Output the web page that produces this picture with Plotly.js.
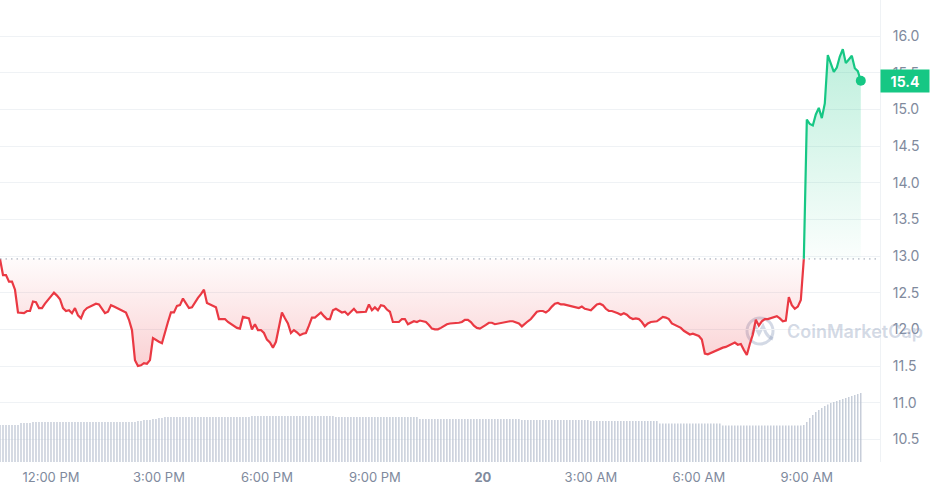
<!DOCTYPE html>
<html>
<head>
<meta charset="utf-8">
<script src="https://cdn.plot.ly/plotly-3.0.1.min.js"></script>
<style>
  html, body { margin: 0; padding: 0; background: #ffffff; }
  #chart { width: 930px; height: 495px; }
</style>
</head>
<body>
<div id="chart"></div>
<script>
// ---------------- DATA ----------------
// 5-minute samples starting 19th 10:35 and ending 20th 10:30
const startTime = [2024, 2, 19, 10, 35]; // year, monthIndex, day, hour, minute
const stepMinutes = 5;
const openPrice = 12.96;

const prices = [
  12.96,12.74,12.74,12.65,12.65,12.54,12.23,12.22,12.22,12.25,
  12.25,12.38,12.37,12.29,12.29,12.35,12.40,12.44,12.50,12.46,
  12.41,12.29,12.25,12.26,12.22,12.29,12.19,12.15,12.25,12.29,
  12.31,12.33,12.35,12.34,12.27,12.22,12.24,12.33,12.31,12.29,
  12.28,12.25,12.23,12.13,11.99,11.58,11.50,11.51,11.54,11.53,
  11.58,11.88,11.85,11.83,11.81,11.97,12.10,12.23,12.23,12.32,
  12.33,12.42,12.36,12.29,12.30,12.37,12.43,12.48,12.54,12.36,
  12.34,12.32,12.30,12.14,12.14,12.14,12.10,12.07,12.04,12.02,
  12.01,12.17,12.16,12.15,12.00,12.07,11.99,11.99,11.95,11.86,
  11.82,11.75,11.83,12.03,12.23,12.15,12.08,11.95,11.99,11.96,
  11.92,11.94,11.95,12.05,12.16,12.16,12.19,12.23,12.18,12.14,
  12.14,12.26,12.28,12.25,12.23,12.24,12.20,12.24,12.28,12.23,
  12.23,12.24,12.24,12.34,12.26,12.30,12.26,12.33,12.32,12.27,
  12.24,12.10,12.10,12.10,12.14,12.14,12.07,12.09,12.11,12.10,
  12.12,12.11,12.10,12.06,12.01,12.00,12.00,12.02,12.05,12.07,
  12.08,12.08,12.08,12.09,12.10,12.13,12.13,12.10,12.05,12.02,
  12.01,12.03,12.06,12.09,12.09,12.07,12.08,12.08,12.09,12.10,
  12.11,12.11,12.10,12.08,12.04,12.08,12.11,12.14,12.19,12.24,
  12.25,12.25,12.23,12.26,12.31,12.35,12.36,12.34,12.34,12.33,
  12.32,12.31,12.29,12.29,12.31,12.28,12.27,12.26,12.30,12.34,
  12.35,12.33,12.28,12.25,12.25,12.24,12.22,12.20,12.22,12.20,
  12.16,12.14,12.15,12.14,12.10,12.04,12.08,12.10,12.10,12.11,
  12.14,12.17,12.16,12.14,12.08,12.06,12.05,12.02,11.98,11.95,
  11.93,11.94,11.93,11.91,11.86,11.67,11.66,11.68,11.70,11.71,
  11.73,11.75,11.76,11.78,11.81,11.82,11.79,11.80,11.72,11.65,
  11.80,11.93,12.13,12.05,12.11,12.14,12.14,12.15,12.17,12.18,
  12.15,12.11,12.12,12.44,12.33,12.28,12.31,12.40,12.96,14.86,
  14.80,14.78,14.93,15.02,14.88,15.08,15.74,15.63,15.51,15.57,
  15.72,15.82,15.63,15.68,15.73,15.56,15.52,15.39
];

// volume (millions), one bar per sample
const volumes = [
  3.7,3.7,3.7,3.7,3.7,3.7,3.7,
  3.9,3.9,3.9,3.9,4.0,4.0,4.0,4.0,4.0,4.0,4.0,4.0,4.0,4.0,4.0,4.0,4.0,4.0,4.0,4.0,4.0,4.0,4.0,4.0,4.0,4.0,4.0,4.0,4.0,4.0,4.0,4.0,4.0,4.0,4.0,4.0,4.0,4.0,4.0,
  4.1,4.1,4.2,4.2,4.2,4.3,4.3,4.4,4.4,4.5,
  4.5,4.5,4.5,4.5,4.5,4.5,4.5,4.5,4.5,4.5,4.5,4.5,4.5,4.5,4.5,4.5,4.5,4.5,4.5,4.5,4.5,4.5,4.5,4.5,4.5,4.5,4.5,4.5,
  4.6,4.6,4.6,4.6,4.6,4.6,4.6,4.6,4.6,4.6,4.6,4.6,4.6,4.6,4.6,4.6,4.6,4.6,4.6,4.6,4.6,4.6,4.6,4.6,4.6,4.6,4.6,4.6,
  4.5,4.5,4.5,4.5,4.5,4.5,4.5,4.5,4.5,4.5,4.5,4.5,4.5,4.5,4.5,4.5,4.5,4.5,4.5,4.5,4.5,4.5,4.5,4.5,4.5,4.5,4.5,4.5,
  4.3,4.3,4.3,4.3,4.3,4.3,4.3,4.3,4.3,4.3,4.3,4.3,4.3,4.3,4.3,4.3,4.3,4.3,4.3,4.3,4.3,4.3,4.3,4.3,4.3,4.3,4.3,4.3,4.3,4.3,4.3,4.3,4.3,4.3,
  4.2,4.2,4.2,4.2,4.2,4.2,4.2,4.2,4.2,4.2,4.2,4.2,4.2,4.2,4.2,4.2,4.2,4.2,4.2,4.2,4.2,4.2,4.2,
  4.1,4.1,4.1,4.1,4.1,4.1,4.1,4.1,4.1,4.1,4.1,4.1,4.1,4.1,4.1,4.1,4.1,4.1,4.1,4.1,4.1,4.1,4.1,
  3.85,3.85,3.85,3.85,3.85,3.85,3.85,3.85,3.85,3.85,3.85,3.85,3.85,3.85,3.85,3.85,3.85,3.85,3.85,3.85,3.85,
  3.65,3.65,3.65,3.65,3.65,3.65,3.65,3.65,3.65,3.65,3.65,3.65,3.65,3.65,3.65,3.65,3.65,3.65,3.65,3.65,3.65,3.65,3.65,3.65,3.65,3.65,3.65,
  3.7,4.0,4.4,4.7,5.0,5.2,5.4,5.6,5.75,5.9,6.0,6.1,6.2,6.3,6.4,6.5,6.6,6.7,6.8,6.9
];

const tickTimes = ['2024-03-19 12:00','2024-03-19 15:00','2024-03-19 18:00','2024-03-19 21:00',
                   '2024-03-20 00:00','2024-03-20 03:00','2024-03-20 06:00','2024-03-20 09:00'];
const tickLabels = ['12:00 PM','3:00 PM','6:00 PM','9:00 PM','<b>20</b>','3:00 AM','6:00 AM','9:00 AM'];
const priceTicks = [10.5,11.0,11.5,12.0,12.5,13.0,13.5,14.0,14.5,15.0,15.5,16.0];

// ---------------- BUILD ----------------
const pad = n => String(n).padStart(2, '0');
const t0 = Date.UTC(startTime[0], startTime[1], startTime[2], startTime[3], startTime[4]);
const fmt = ms => { const d = new Date(ms);
  return d.getUTCFullYear() + '-' + pad(d.getUTCMonth() + 1) + '-' + pad(d.getUTCDate()) + ' ' +
         pad(d.getUTCHours()) + ':' + pad(d.getUTCMinutes()) + ':' + pad(d.getUTCSeconds()); };
const times = prices.map((_, i) => fmt(t0 + i * stepMinutes * 60000));

let lastBelow = 0;
prices.forEach((v, i) => { if (v < openPrice) lastBelow = i; });
const split = lastBelow + 1;

const redX = times.slice(0, split + 1), redY = prices.slice(0, split + 1);
const grnX = times.slice(split), grnY = prices.slice(split);
const lastPrice = prices[prices.length - 1];

const RED = '#ea3943', GREEN = '#16c784';

const traces = [
  { x: redX, y: redX.map(() => openPrice), mode: 'lines', line: { width: 0 }, hoverinfo: 'skip', showlegend: false },
  { x: redX, y: redY, mode: 'lines', line: { color: RED, width: 2.2 }, fill: 'tonexty',
    fillgradient: { type: 'vertical', start: 11.45, stop: openPrice,
      colorscale: [[0, 'rgba(234,57,67,0.24)'], [1, 'rgba(234,57,67,0.02)']] },
    hoverinfo: 'skip', showlegend: false },
  { x: grnX, y: grnX.map(() => openPrice), mode: 'lines', line: { width: 0 }, hoverinfo: 'skip', showlegend: false },
  { x: grnX, y: grnY, mode: 'lines', line: { color: GREEN, width: 2.2 }, fill: 'tonexty',
    fillgradient: { type: 'vertical', start: openPrice, stop: 15.8,
      colorscale: [[0, 'rgba(22,199,132,0.02)'], [1, 'rgba(22,199,132,0.28)']] },
    hoverinfo: 'skip', showlegend: false },
  { x: times, y: volumes, type: 'bar', yaxis: 'y2', width: stepMinutes * 60000 * 0.4,
    marker: { color: '#b9c1d0', line: { width: 0 } }, hoverinfo: 'skip', showlegend: false },
  { x: [times[times.length - 1]], y: [lastPrice], mode: 'markers',
    marker: { color: GREEN, size: 10 }, cliponaxis: false, hoverinfo: 'skip', showlegend: false }
];

const plotW = 880, plotH = 462;
const logoX = 760 / plotW, logoY = 1 - 331 / plotH;

const layout = {
  width: 930, height: 495,
  margin: { l: 0, r: 50, t: 0, b: 33, pad: 0 },
  paper_bgcolor: '#ffffff', plot_bgcolor: '#ffffff',
  showlegend: false,
  font: { family: 'Inter, sans-serif', color: '#808a9d' },
  xaxis: {
    type: 'date',
    range: [fmt(t0), fmt(t0 + 1467 * 60000)],
    tickmode: 'array', tickvals: tickTimes, ticktext: tickLabels,
    showgrid: false, zeroline: false, showline: false, ticks: '',
    tickfont: { family: 'Inter, sans-serif', size: 13, color: '#808a9d' },
    ticklabelstandoff: 6, fixedrange: true
  },
  yaxis: {
    side: 'right', range: [10.191, 16.491],
    tickmode: 'array', tickvals: priceTicks, ticktext: priceTicks.map(v => v.toFixed(1)),
    showgrid: true, gridcolor: '#eff2f5', gridwidth: 1,
    zeroline: false, showline: true, linecolor: '#eff2f5', linewidth: 1, ticks: '',
    tickfont: { family: 'Inter, sans-serif', size: 14, color: '#808a9d' },
    ticklabelstandoff: 9, fixedrange: true
  },
  yaxis2: { overlaying: 'y', range: [0, 46.2], visible: false, fixedrange: true },
  bargap: 0.2,
  shapes: [
    { type: 'line', xref: 'paper', x0: 0, x1: 1, yref: 'y', y0: openPrice, y1: openPrice,
      line: { color: '#98a1b0', width: 1, dash: '1.5px,4px' }, layer: 'above' },
    { type: 'circle', xref: 'paper', yref: 'paper', xsizemode: 'pixel', ysizemode: 'pixel',
      xanchor: logoX, yanchor: logoY, x0: -13, x1: 13, y0: -13, y1: 13,
      line: { color: 'rgba(150,165,192,0.42)', width: 3 }, layer: 'below' },
    { type: 'path', xref: 'paper', yref: 'paper', xsizemode: 'pixel', ysizemode: 'pixel',
      xanchor: logoX, yanchor: logoY,
      path: 'M -8 -4 L -5 5 L -1 -3 L 3 5 L 6 -2 Q 8 -6 13 -8',
      line: { color: 'rgba(150,165,192,0.42)', width: 3 }, layer: 'below' }
  ],
  annotations: [
    { xref: 'paper', yref: 'paper', x: 785 / plotW, y: logoY, xanchor: 'left', yanchor: 'middle',
      text: 'CoinMarketCap', showarrow: false,
      font: { family: 'Inter, sans-serif', size: 18, weight: 600, color: 'rgba(150,165,192,0.42)' } },
    { xref: 'paper', yref: 'y', x: 1, y: lastPrice, xanchor: 'left', yanchor: 'middle',
      text: '<b>' + lastPrice.toFixed(1) + '</b>', showarrow: false,
      bgcolor: GREEN, width: 44, height: 18, borderpad: 2, align: 'center',
      font: { family: 'Inter, sans-serif', size: 14, color: '#ffffff' } }
  ]
};

Plotly.newPlot('chart', traces, layout, { displayModeBar: false, staticPlot: true });
</script>
</body>
</html>
